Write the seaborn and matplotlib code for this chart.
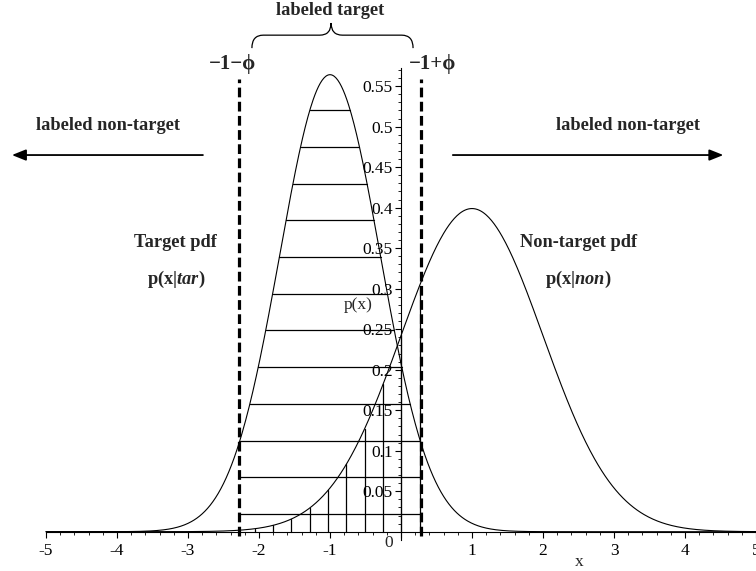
import numpy as np
import pandas as pd
import matplotlib
matplotlib.use("Agg")
import matplotlib.pyplot as plt
from matplotlib.path import Path
from matplotlib.patches import PathPatch
import seaborn as sns

# Class-conditional score densities (Gaussian parameters)
target_mean, target_sd = -1.0, 0.7071
nontarget_mean, nontarget_sd = 1.0, 1.0
phi = 1.28  # half-width of the "labeled target" window around the target mean

x_ticks = [-5, -4, -3, -2, -1, 0, 1, 2, 3, 4, 5]
x_tick_labels = ["-5", "-4", "-3", "-2", "-1", "", "1", "2", "3", "4", "5"]
y_ticks = [0.05, 0.10, 0.15, 0.20, 0.25, 0.30, 0.35, 0.40, 0.45, 0.50, 0.55]
y_tick_labels = ["0.05", "0.1", "0.15", "0.2", "0.25", "0.3", "0.35", "0.4", "0.45", "0.5", "0.55"]

# hatch spacing inside the labeled-target window
h_hatch_start, h_hatch_step = 0.0219, 0.0453
v_hatch_start, v_hatch_step = -2.06, 0.258


def gauss_pdf(x, mu, sd):
    return np.exp(-0.5 * ((x - mu) / sd) ** 2) / (sd * np.sqrt(2 * np.pi))


sns.set_theme(style="white")
plt.rcParams["font.family"] = ["Liberation Serif", "DejaVu Serif"]
plt.rcParams["mathtext.fontset"] = "custom"
plt.rcParams["mathtext.rm"] = "Liberation Serif"
plt.rcParams["mathtext.bf"] = "Liberation Serif:bold"
plt.rcParams["mathtext.it"] = "Liberation Serif:italic"
plt.rcParams["mathtext.bfit"] = "Liberation Serif:italic:bold"
plt.rcParams["lines.scale_dashes"] = False

fig = plt.figure(figsize=(7.56, 5.71), dpi=100)
ax = fig.add_axes([0, 0, 1, 1])
ax.set_xlim(-5.648, 5.0)
ax.set_ylim(-0.0485, 0.6564)
ax.set_facecolor("white")

xs = np.linspace(-5, 5, 801)
curves = pd.DataFrame({
    "x": np.concatenate([xs, xs]),
    "p": np.concatenate([gauss_pdf(xs, target_mean, target_sd),
                         gauss_pdf(xs, nontarget_mean, nontarget_sd)]),
    "cls": ["target"] * len(xs) + ["nontarget"] * len(xs),
})
sns.lineplot(data=curves, x="x", y="p", units="cls", estimator=None,
             color="black", lw=0.8, ax=ax, legend=False)

lo, hi = target_mean - phi, target_mean + phi

# horizontal hatching: target mass inside the window
t_peak = gauss_pdf(target_mean, target_mean, target_sd)
for lev in np.arange(h_hatch_start, t_peak, h_hatch_step):
    half = target_sd * np.sqrt(2 * np.log(t_peak / lev))
    x0 = max(lo, target_mean - half)
    x1 = min(hi, target_mean + half)
    ax.plot([x0, x1], [lev, lev], color="black", lw=0.9, zorder=2)

# vertical hatching: non-target mass inside the window
for xv in np.arange(v_hatch_start, hi, v_hatch_step):
    ax.plot([xv, xv], [0, gauss_pdf(xv, nontarget_mean, nontarget_sd)],
            color="black", lw=0.9, zorder=2)

# window boundaries
for xb in (lo, hi):
    ax.plot([xb, xb], [-0.005, 0.559], color="black", lw=2.3,
            dashes=(7.0, 3.2), zorder=3)

# axes through the origin
for side in ("top", "right"):
    ax.spines[side].set_visible(False)
ax.spines["left"].set_position(("data", 0))
ax.spines["bottom"].set_position(("data", 0))
ax.spines["left"].set_bounds(-0.01, 0.572)
ax.spines["bottom"].set_bounds(-5, 5)
for side in ("left", "bottom"):
    ax.spines[side].set_color("black")
    ax.spines[side].set_linewidth(0.8)
    ax.spines[side].set_zorder(4)

ax.xaxis.set_ticks_position("bottom")
ax.yaxis.set_ticks_position("left")
ax.set_xticks(x_ticks)
ax.set_xticklabels(x_tick_labels)
ax.set_xticks(np.arange(-5, 5.01, 0.2), minor=True)
ax.set_yticks(y_ticks)
ax.set_yticklabels(y_tick_labels)
ax.set_yticks(np.arange(0.01, 0.571, 0.01), minor=True)
ax.tick_params(axis="both", which="major", direction="out", length=4,
               width=0.8, color="black", labelsize=12.5, labelcolor="black", pad=2)
ax.tick_params(axis="both", which="minor", direction="out", length=2.2,
               width=0.6, color="black")
ax.tick_params(axis="x", which="major", pad=4)
ax.set_xlabel("")
ax.set_ylabel("")
ax.grid(False)

ax.text(-0.17, -0.014, "0", fontsize=12.5, ha="center", va="center")
ax.text(2.51, -0.038, "x", fontsize=12.5, ha="center", va="center")
ax.text(-0.60, 0.280, "p(x)", fontsize=12.5, ha="center", va="center")

# annotations
bold = dict(fontsize=13.2, fontweight="bold", ha="center", va="center")
ax.text(-1.0, 0.643, "labeled target", **bold)
ax.text(lo - 0.09, 0.578, "\u22121\u2212\u03d5", fontsize=15, fontweight="bold",
        ha="center", va="center")
ax.text(hi + 0.17, 0.578, "\u22121+\u03d5", fontsize=15, fontweight="bold",
        ha="center", va="center")
ax.text(-4.127, 0.502, "labeled non-target", **bold)
ax.text(3.197, 0.502, "labeled non-target", **bold)
ax.text(-3.17, 0.357, "Target pdf", **bold)
ax.text(-3.17, 0.312, r"$\mathbf{p(x|}\mathbfit{tar}\mathbf{)}$", fontsize=13.2,
        ha="center", va="center")
ax.text(2.50, 0.357, "Non-target pdf", **bold)
ax.text(2.50, 0.312, r"$\mathbf{p(x|}\mathbfit{non}\mathbf{)}$", fontsize=13.2,
        ha="center", va="center")

arrow = dict(arrowstyle="-|>,head_length=0.7,head_width=0.28", color="black",
             lw=1.3, shrinkA=0, shrinkB=0)
ax.annotate("", xy=(-5.48, 0.465), xytext=(-2.79, 0.465), arrowprops=arrow)
ax.annotate("", xy=(4.54, 0.465), xytext=(0.73, 0.465), arrowprops=arrow)

# curly brace over the labeled-target window
bx0, bx1, bxc = -2.10, 0.17, -0.985
y_end, y_mid, y_tip = 0.597, 0.613, 0.628
r = 0.16
verts = [
    (bx0, y_end), (bx0, y_mid), (bx0 + r, y_mid),
    (bxc - r, y_mid), (bxc, y_mid), (bxc, y_tip),
    (bxc, y_mid), (bxc + r, y_mid),
    (bx1 - r, y_mid), (bx1, y_mid), (bx1, y_end),
]
codes = [Path.MOVETO, Path.CURVE3, Path.CURVE3,
         Path.LINETO, Path.CURVE3, Path.CURVE3,
         Path.CURVE3, Path.CURVE3,
         Path.LINETO, Path.CURVE3, Path.CURVE3]
ax.add_patch(PathPatch(Path(verts, codes), facecolor="none",
                       edgecolor="black", lw=0.9))

fig.savefig("out.png", dpi=100, facecolor="white")
